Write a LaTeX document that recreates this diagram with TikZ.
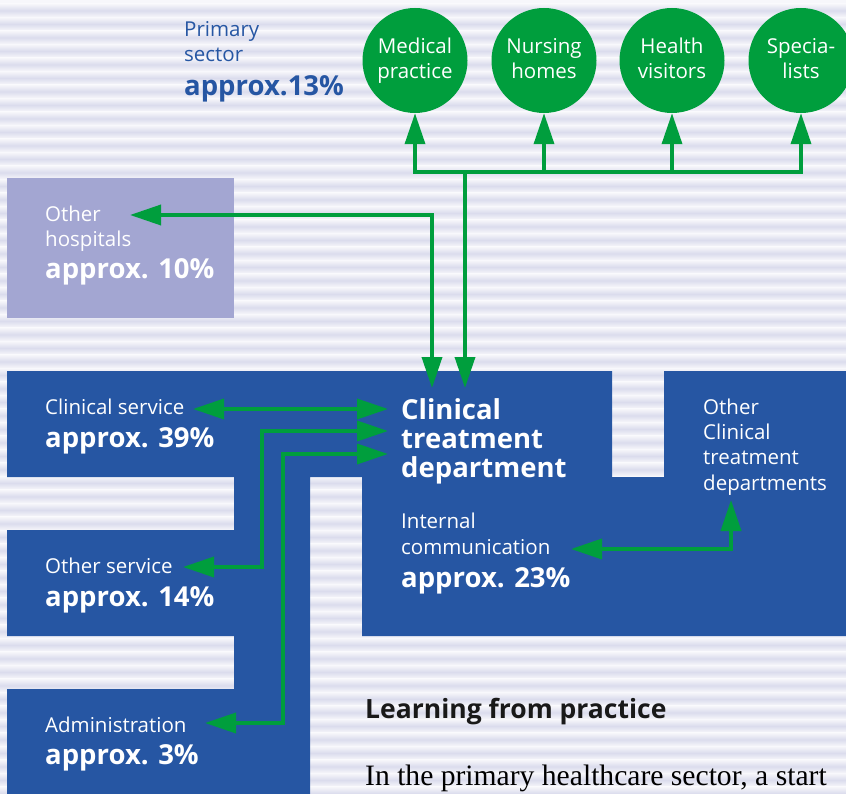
\documentclass[tikz,border=0pt]{standalone}
\usepackage{fontspec}
\setmainfont{Open Sans}
\newfontfamily\serifx{Liberation Serif}
\usetikzlibrary{arrows.meta}
\definecolor{bbl}{RGB}{38,86,163}
\definecolor{lav}{RGB}{163,166,210}
\definecolor{grn}{RGB}{0,158,61}
\definecolor{bgl}{RGB}{247,247,251}
\definecolor{bgd}{RGB}{219,220,237}
\newcommand\cl[2]{\vphantom{lp}#1\\\vphantom{lp}#2}
\begin{document}
\begin{tikzpicture}[x=1pt,y=-1pt,
 >={Triangle[length=31pt,width=20pt]},
 regtxt/.style={inner sep=0pt, anchor=base west, align=left, text=white, font=\fontsize{20.5}{25.3}\selectfont},
 boldtxt/.style={inner sep=0pt, anchor=base west, align=left, text=white, font=\fontsize{27.5}{29}\selectfont\bfseries},
 circ/.style={circle, fill=grn, minimum size=105pt, inner sep=0pt, text=white, align=center, font=\fontsize{20.5}{24.5}\selectfont},
 conn/.style={draw=grn, line width=3.6pt, line join=miter},
]
\useasboundingbox (0,0) rectangle (846,794);
\fill[bgl] (0,0) rectangle (846,794);
\foreach \k in {0,...,59} {
  \pgfmathsetmacro\yc{10.5+13.5*\k}
  \shade[top color=bgl,bottom color=bgl,middle color=bgd] (0,\yc-6.75) rectangle (846,\yc+6.75);
}
% other hospitals box
\node[fill=lav, minimum width=227pt, minimum height=140pt, anchor=north west, inner sep=0pt] (ohb) at (7,178) {};
% blue shape
\fill[bbl] (7,371) -- (612,371) -- (612,477) -- (664,477) -- (664,371) -- (850,371) -- (850,636) -- (362,636) -- (362,477) -- (310,477) -- (310,800) -- (7,800) -- (7,689) -- (234,689) -- (234,636) -- (7,636) -- (7,530) -- (234,530) -- (234,477) -- (7,477) -- cycle;
% circles
\node[circ] (mp) at (415,60.5) {\cl{Medical}{practice}};
\node[circ] (nh) at (544,60.5) {\cl{Nursing}{homes}};
\node[circ] (hv) at (672,60.5) {\cl{Health}{visitors}};
\node[circ] (sp) at (801,60.5) {\cl{Specia-}{lists}};
% texts (base anchor = baseline of the last line)
\node[regtxt, text=bbl] (ps) at (184,62) {Primary\\sector};
\node[boldtxt, text=bbl] (psv) at (184,96) {approx.13\%};
\node[regtxt] (oh) at (45,247) {Other\\hospitals};
\node[boldtxt] (ohv) at (45,279) {approx. 10\%};
\node[regtxt] (cs) at (45,414) {Clinical service};
\node[boldtxt] (csv) at (45,447) {approx. 39\%};
\node[regtxt] (os) at (45,573) {Other service};
\node[boldtxt] (osv) at (45,606) {approx. 14\%};
\node[regtxt] (ad) at (45,732) {Administration};
\node[boldtxt] (adv) at (45,764) {approx. 3\%};
\node[boldtxt] (ctd) at (401,477) {Clinical\\treatment\\department};
\node[regtxt] (ic) at (401,554) {Internal\\communication};
\node[boldtxt] (icv) at (401,587) {approx. 23\%};
\node[regtxt] (oct) at (703,490) {Other\\Clinical\\treatment\\departments};
\node[inner sep=0pt, anchor=base west, font=\fontsize{26.5}{30}\selectfont\bfseries, text=black!90] (lfp) at (365,718) {Learning from practice};
\node[inner sep=0pt, anchor=base west, font=\serifx\fontsize{29.6}{34}\selectfont, text=black] (itp) at (365,785) {In the primary healthcare sector, a start};
% coordinates
\coordinate (b1) at (415,172);
\coordinate (b2) at (544,172);
\coordinate (b3) at (672,172);
\coordinate (b4) at (801,172);
\coordinate (bj) at (465,172);
\coordinate (t1) at (465,388);
\coordinate (t2) at (432,388);
\coordinate (ohtip) at (130,215);
\coordinate (cstip) at (193,409);
\coordinate (t3) at (388,409);
\coordinate (ostip) at (183,567);
\coordinate (osk) at (262,431);
\coordinate (t4) at (388,431);
\coordinate (adtip) at (205,723);
\coordinate (adk) at (283,454);
\coordinate (t5) at (388,454);
\coordinate (ictip) at (571,549);
\coordinate (octip) at (731,500);
% connectors
\draw[conn, line cap=rect] (b1) -- (b4);
\foreach \a/\b in {b1/mp,b2/nh,b3/hv,b4/sp} \draw[conn,->] (\a) -- (\b.south);
\draw[conn,->] (bj) -- (t1);
\draw[conn,<->] (ohtip) -| (t2);
\draw[conn,<->] (cstip) -- (t3);
\draw[conn,<->] (ostip) -| (osk) -- (t4);
\draw[conn,<->] (adtip) -| (adk) -- (t5);
\draw[conn,<->] (ictip) -| (octip);
\end{tikzpicture}
\end{document}
